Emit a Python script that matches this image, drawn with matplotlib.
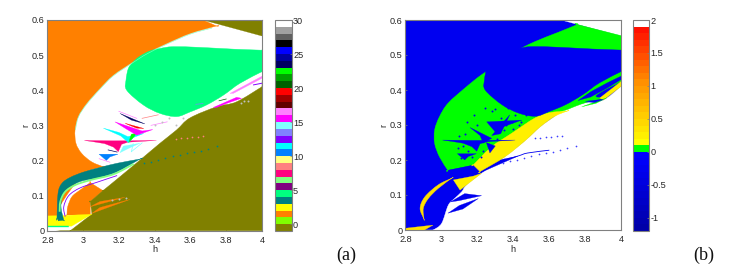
import numpy as np
import matplotlib
matplotlib.use('Agg')
import matplotlib.pyplot as plt
from matplotlib.cm import ScalarMappable
from matplotlib.colors import BoundaryNorm, ListedColormap
from matplotlib.patches import PathPatch
from matplotlib.path import Path

plt.rcParams['font.family'] = ['Liberation Sans', 'DejaVu Sans']
plt.rcParams['axes.unicode_minus'] = False

# region outlines as (h, r). A repeated point is a sharp corner.
orange_main = [(2.8, .6), (2.8, .6), (3.67, .6), (3.67, .6), (3.745, .583), (3.745, .583), (3.6, .562), (3.467, .533),
               (3.355, .505), (3.28, .481), (3.169, .443), (3.094, .405), (3.02, .3625), (2.973, .325), (2.955, .287),
               (2.96, .249), (2.992, .22), (3.048, .196), (3.113, .182), (3.113, .182), (3.0, .16), (2.87, .07),
               (2.87, .042), (2.87, .042), (2.8, .042), (2.8, .042)]
orange_rim = [(3.72, .577), (3.6, .56), (3.467, .531), (3.355, .503), (3.28, .479), (3.169, .441), (3.094, .403),
              (3.02, .36), (2.975, .325), (2.957, .287)]
orange_patch = [(2.91, .0447), (2.91, .0447), (2.914, .068), (2.938, .097), (2.984, .116), (3.04, .137), (3.04, .137),
                (3.111, .114), (3.111, .114), (3.04, .083), (3.04, .083), (3.04, .0447), (3.04, .0447)]
orange_streak1 = [(3.039, .068), (3.234, .095), (3.094, .083)]
orange_streak2 = [(3.048, .049), (3.262, .089), (3.094, .066)]
olive_main = [(2.929, 0), (2.929, 0), (3.05, .0476), (3.05, .0476), (3.04, .083), (3.04, .083), (3.111, .114),
              (3.111, .114), (3.188, .146), (3.318, .201), (3.43, .249), (3.523, .287), (3.597, .321), (3.747, .353),
              (3.858, .367), (4, .41), (4, .41), (4, 0), (4, 0)]
olive_wedge = [(3.67, .6), (4, .6), (4, .555)]
yellow_low = [(2.8, .042), (2.885, .043), (3.05, .047), (2.936, .013), (2.8, .013)]
teal_band = [(2.854, .0353), (2.854, .0353), (2.86, .1065), (2.882, .135), (2.929, .152), (3.003, .167), (3.095, .18),
             (3.19, .192), (3.318, .204), (3.318, .204), (3.19, .168), (3.095, .152), (2.984, .14), (2.91, .118),
             (2.882, .092), (2.877, .064), (2.892, .03), (2.892, .03), (2.864, .0285), (2.864, .0285)]
lightgreen_line = [(2.869, .054), (2.873, .083), (2.9, .111), (2.956, .13), (3.04, .144), (3.171, .161), (3.283, .19)]
purple_line = [(2.9, .04), (2.892, .068), (2.92, .1), (2.984, .122), (3.078, .138), (3.19, .157)]
teardrop = [(3.24, .429), (3.253, .462), (3.281, .481), (3.318, .497), (3.374, .512), (3.43, .519), (3.504, .524),
            (3.653, .522), (3.84, .517), (4, .514), (4, .514), (4, .453), (4, .453), (3.877, .42), (3.784, .386),
            (3.69, .358), (3.597, .338), (3.523, .325), (3.43, .334), (3.337, .358), (3.244, .4)]

spike_pink = [(3.007, .257), (3.17, .256), (3.41, .257), (3.25, .252), (3.215, .246), (3.197, .225), (3.17, .238), (3.12, .248), (3.06, .253)]
spike_cyan = [(3.113, .292), (3.2, .28), (3.25, .268), (3.34, .277), (3.28, .265), (3.255, .25), (3.21, .27)]
spike_lightcyan = [(3.206, .222), (3.225, .241), (3.318, .249), (3.253, .234)]
spike_green = [(3.255, .252), (3.27, .275), (3.3, .277), (3.275, .262)]
spike_blue = [(3.089, .218), (3.195, .218), (3.15, .21), (3.13, .2)]
spike_magenta = [(3.178, .31), (3.33, .284), (3.39, .288), (3.3, .272), (3.28, .278), (3.24, .29)]
spike_red = [(3.234, .306), (3.34, .291), (3.3, .292), (3.27, .298)]
spike_navy = [(3.206, .334), (3.346, .304), (3.27, .315)]
right_magenta = [(3.728, .351), (3.858, .38), (3.886, .377), (3.803, .3625), (3.747, .351)]
right_pink = [(3.821, .391), (4, .44), (4, .434), (3.84, .391)]
right_violet = [(3.95, .415), (4, .42)]

# short strokes and dots in the fine structure
stroke_h0 = [3.14, 3.09, 3.38, 3.33, 3.27, 3.63, 3.76, 3.27, 3.2]
stroke_r0 = [.23, .205, .3, .32, .225, .36, .37, .225, .34]
stroke_h1 = [3.19, 3.15, 3.47, 3.42, 3.28, 3.67, 3.8, 3.33, 3.3]
stroke_r1 = [.224, .195, .31, .33, .248, .362, .375, .25, .32]
stroke_colors = ['#000060', '#FF80FF', '#FF80FF', '#FF8080', '#80FFFF', '#8080FF', '#006000', '#80FFFF', '#FF80FF']
teal_dots_h = [3.34, 3.38, 3.42, 3.46, 3.5, 3.54, 3.58, 3.62, 3.66, 3.7, 3.75]
teal_dots_r = [.192, .197, .201, .206, .212, .216, .22, .224, .228, .233, .24]
pink_dots_h = [3.52, 3.55, 3.58, 3.61, 3.64, 3.67]
pink_dots_r = [.262, .264, .265, .267, .268, .27]
white_dots_h = [3.16, 3.2, 3.24, 3.4, 3.44, 3.48, 3.52, 3.56, 3.88, 3.9, 3.92]
white_dots_r = [.086, .09, .094, .3, .31, .32, .3, .32, .365, .37, .37]

# panel (b)
white_low = [(2.956, 0), (2.956, 0), (3.002, .019), (3.039, .071), (3.076, .091), (3.113, .109), (3.141, .129),
             (3.224, .162), (3.353, .209), (3.465, .255), (3.55, .295), (3.631, .325), (3.678, .345), (3.789, .362),
             (3.9, .371), (4, .411), (4, .411), (4, 0), (4, 0)]
white_wedge = [(3.667, .6), (4, .6), (4, .555)]
green_crescent = [(3.756, .587), (3.756, .587), (3.648, .5645), (3.519, .538), (3.407, .509), (3.333, .481),
                  (3.222, .443), (3.13, .405), (3.037, .362), (2.99, .324), (2.963, .286), (2.963, .2475), (2.99, .209),
                  (3.036, .171), (3.036, .171), (3.178, .186), (3.298, .203), (3.298, .203), (3.5, .28), (3.63, .33),
                  (3.704, .345), (3.778, .36), (3.852, .371), (3.907, .376), (3.907, .376), (3.86, .385), (4, .425),
                  (4, .425), (4, .516), (4, .555), (4, .555)]
yellow_band = [(3.178, .186), (3.178, .186), (3.28, .238), (3.39, .276), (3.52, .32), (3.6, .335), (3.7, .34), (3.7, .34),
               (3.631, .325), (3.55, .295), (3.465, .255), (3.353, .209), (3.215, .167), (3.215, .167)]
blue_wedge = [(3.04, .171), (3.426, .211), (3.2, .16), (3.08, .13)]
yellow_tri = [(3.067, .143), (3.178, .154), (3.224, .162), (3.141, .129), (3.104, .114)]
yellow_crescent = [(2.904, .031), (2.904, .031), (2.882, .062), (2.909, .095), (2.983, .129), (3.058, .148),
                   (3.058, .148), (2.983, .119), (2.928, .09), (2.9, .062)]
yellow_corner = [(2.8, .005), (2.954, .014), (2.907, 0), (2.8, 0)]
blue_strip = [(3.76, .37), (3.83, .395), (3.92, .42), (4, .44), (4, .43), (3.92, .405), (3.83, .38)]
yellow_strip = [(3.88, .377), (4, .425), (4, .411), (3.9, .371)]
blue_streak1 = [(3.037, .048), (3.1, .07), (3.206, .09), (3.12, .06)]
blue_streak2 = [(3.05, .08), (3.13, .104), (3.224, .098), (3.1, .084)]
blue_tail = [(3.35, .2), (3.43, .212), (3.48, .22), (3.6, .228)]
green_hair = [(3.78, .352), (3.92, .378), (3.86, .362)]
blue_hair = [(3.8, .368), (3.9, .373), (3.85, .364)]
blue_spike_a = [(3.159, .293), (3.28, .262), (3.233, .248), (3.215, .27)]
blue_spike_b = [(3.28, .27), (3.38, .329), (3.33, .275)]
blue_spike_c = [(3.252, .309), (3.447, .314), (3.35, .296), (3.3, .28)]
blue_spike_d = [(3.25, .25), (3.27, .22), (3.3, .24)]
blue_speck_h = [3.09, 3.11, 3.13, 3.15, 3.17, 3.2, 3.22, 3.12, 3.18, 3.24, 3.3, 3.33, 3.37, 3.41, 3.44, 3.47, 3.4, 3.36,
                3.31, 3.28, 3.23, 3.1, 3.14, 3.35, 3.39, 3.43]
blue_speck_r = [.235, .205, .275, .225, .21, .3, .21, .24, .33, .35, .345, .32, .35, .33, .31, .33, .29, .3, .26, .34,
                .225, .27, .31, .285, .31, .3]
blue_dots_h = [3.34, 3.38, 3.42, 3.46, 3.5, 3.54, 3.58, 3.62, 3.66, 3.7, 3.75, 3.52, 3.55, 3.58, 3.61, 3.64, 3.67]
blue_dots_r = [.192, .197, .201, .206, .212, .216, .22, .224, .228, .233, .24, .262, .264, .265, .267, .268, .27]

cbar_a_bounds = list(range(-1, 31))
cbar_a_ticks = [0, 5, 10, 15, 20, 25, 30]
cbar_a_colors = ['#808000', '#80FF00', '#FF8000', '#FFFF00', '#008080', '#00FF80', '#800080', '#80FF80',
                 '#FF0080', '#FF8080', '#FFFF80', '#0080FF', '#00FFFF', '#8000FF', '#8080FF', '#80FFFF',
                 '#FF00FF', '#FF80FF', '#600000', '#A00000', '#FF0000', '#006000', '#00A000', '#00FF00',
                 '#000060', '#0000A0', '#0000FF', '#000000', '#606060', '#A0A0A0', '#FFFFFF']
cbar_b_ticks = [-1, -0.5, 0, 0.5, 1, 1.5, 2]
cbar_b_ticklabels = ['-1', '-0.5', '0', '0.5', '1', '1.5', '2']
cbar_b_colors = ['#0000A8', '#0000B0', '#0000B8', '#0000C0', '#0000C8', '#0000D0', '#0000D8', '#0000E0',
                 '#0000E8', '#0000F0', '#0000F8', '#0000FF', '#00FF00', '#FFFF00', '#FFF000', '#FFE400',
                 '#FFD800', '#FFCC00', '#FFC000', '#FFB400', '#FFA800', '#FF9C00', '#FF9000', '#FF8000',
                 '#FF7000', '#FF6000', '#FF5000', '#FF4000', '#FF3000', '#FF2000', '#FF1000', '#FFFFFF']
cbar_b_bounds = [round(-1.2 + 0.1 * i, 1) for i in range(33)]

xticks = [2.8, 3, 3.2, 3.4, 3.6, 3.8, 4]
xticklabels = ['2.8', '3', '3.2', '3.4', '3.6', '3.8', '4']
yticks = [0, 0.1, 0.2, 0.3, 0.4, 0.5, 0.6]
yticklabels = ['0', '0.1', '0.2', '0.3', '0.4', '0.5', '0.6']

W, H = 736, 269
GRAY = '#808080'
TXT = '#262626'
FS = 6.6
BLUE = '#0000F0'


def curve_path(pts, closed):
    # Bezier through the read points, so the outlines come out round
    a = np.array(pts, dtype=float)
    n = len(a)
    verts = [a[0]]
    codes = [Path.MOVETO]
    for i in range(n if closed else n - 1):
        if closed:
            p0, p1, p2, p3 = a[(i - 1) % n], a[i], a[(i + 1) % n], a[(i + 2) % n]
        else:
            p0, p1, p2, p3 = a[max(i - 1, 0)], a[i], a[i + 1], a[min(i + 2, n - 1)]
        verts += [p1 + (p2 - p0) / 6, p2 - (p3 - p1) / 6, p2]
        codes += [Path.CURVE4] * 3
    return Path(verts, codes)


def smooth(ax, pts, color):
    ax.add_patch(PathPatch(curve_path(pts, True), facecolor=color, edgecolor=color, lw=0.3, zorder=2))


def fill(ax, pts, color):
    a = np.array(pts)
    ax.fill(a[:, 0], a[:, 1], color=color, lw=0.2, zorder=2)


def line(ax, pts, color, lw=1.0):
    ax.add_patch(PathPatch(curve_path(pts, False), facecolor='none', edgecolor=color, lw=lw, zorder=3))


def make_axes(fig, box):
    # box is left, top, right, bottom in pixels
    return fig.add_axes([box[0] / W, 1 - box[3] / H, (box[2] - box[0]) / W, (box[3] - box[1]) / H])


def style_main(ax):
    ax.set_xlim(2.8, 4)
    ax.set_ylim(0, 0.6)
    ax.set_xticks(xticks, xticklabels)
    ax.set_yticks(yticks, yticklabels)
    ax.tick_params(direction='in', length=1.5, width=0.5, color=GRAY, labelsize=FS, labelcolor=TXT)
    ax.tick_params(axis='x', pad=3.5)
    ax.tick_params(axis='y', pad=2)
    ax.set_xlabel('h', fontsize=FS, color=TXT, labelpad=0.5)
    ax.set_ylabel('r', fontsize=FS, color=TXT, labelpad=1)
    for s in ax.spines.values():
        s.set_color(GRAY)
        s.set_linewidth(0.8)
        s.set_zorder(5)


def make_cbar(fig, box, colors, bounds, ticks, labels=None):
    cax = make_axes(fig, box)
    cmap = ListedColormap(colors)
    norm = BoundaryNorm(bounds, cmap.N)
    cb = fig.colorbar(ScalarMappable(norm=norm, cmap=cmap), cax=cax, spacing='proportional', ticks=ticks)
    if labels:
        cb.set_ticklabels(labels)
    cb.minorticks_off()
    cax.tick_params(direction='in', length=1.5, width=0.5, color=GRAY, labelsize=FS, labelcolor=TXT, pad=1)
    cb.outline.set_edgecolor(GRAY)
    cb.outline.set_linewidth(0.8)
    return cb


fig = plt.figure(figsize=(W / 100, H / 100), dpi=100)

# (a)
ax = make_axes(fig, (47.3, 20, 262, 230.7))
smooth(ax, orange_main, '#FF8000')
line(ax, orange_rim, '#80FFC0', 0.4)
smooth(ax, orange_patch, '#FF8000')
smooth(ax, olive_main, '#808000')
fill(ax, olive_wedge, '#808000')
fill(ax, orange_streak1, '#FF8000')
fill(ax, orange_streak2, '#FF8000')
fill(ax, yellow_low, '#FFFF00')
line(ax, [(2.8, .012), (2.92, .012)], '#00FF80', 1.0)
smooth(ax, teal_band, '#008080')
line(ax, lightgreen_line, '#80FF80', 1.3)
line(ax, purple_line, '#8000FF', 0.6)
smooth(ax, teardrop, '#00FF80')
fill(ax, spike_pink, '#FF0080')
fill(ax, spike_cyan, '#00FFFF')
fill(ax, spike_lightcyan, '#80FFFF')
fill(ax, spike_green, '#00FF00')
fill(ax, spike_blue, '#0080FF')
fill(ax, spike_magenta, '#FF00FF')
fill(ax, spike_red, '#FF0000')
fill(ax, spike_navy, '#000060')
fill(ax, right_magenta, '#FF00FF')
fill(ax, right_pink, '#FF80FF')
line(ax, right_violet, '#8000FF', 0.7)
for h0, r0, h1, r1, c in zip(stroke_h0, stroke_r0, stroke_h1, stroke_r1, stroke_colors):
    ax.plot([h0, h1], [r0, r1], color=c, lw=0.5, zorder=3)
ax.scatter(teal_dots_h, teal_dots_r, s=1.5, color='#008080', lw=0, zorder=3)
ax.scatter(pink_dots_h, pink_dots_r, s=1.5, color='#FF8080', lw=0, zorder=3)
ax.scatter(white_dots_h, white_dots_r, s=2, color='#C0C0C0', lw=0, zorder=3)
style_main(ax)
make_cbar(fig, (275, 20, 291.7, 231), cbar_a_colors, cbar_a_bounds, cbar_a_ticks)
fig.text(336 / W, 1 - 255 / H, '(a)', fontsize=13, family='Liberation Serif', color='#111111', va='center')

# (b)
ax = make_axes(fig, (405.3, 20, 621.3, 230))
ax.set_facecolor(BLUE)
smooth(ax, white_low, '#FFFFFF')
fill(ax, white_wedge, '#FFFFFF')
smooth(ax, green_crescent, '#00FF00')
fill(ax, blue_wedge, BLUE)
smooth(ax, yellow_band, '#FFF000')
smooth(ax, teardrop, BLUE)
fill(ax, yellow_tri, '#FFF000')
smooth(ax, yellow_crescent, '#FFE000')
fill(ax, yellow_corner, '#FFE000')
fill(ax, blue_strip, BLUE)
fill(ax, yellow_strip, '#FFF000')
fill(ax, green_hair, '#00FF00')
fill(ax, blue_hair, BLUE)
fill(ax, blue_streak1, BLUE)
fill(ax, blue_streak2, BLUE)
fill(ax, spike_pink, BLUE)
for spike in (blue_spike_a, blue_spike_b, blue_spike_c, blue_spike_d, spike_blue):
    fill(ax, spike, BLUE)
line(ax, blue_tail, BLUE, 0.6)
ax.scatter(blue_speck_h, blue_speck_r, s=2, color=BLUE, lw=0, zorder=3)
ax.scatter(blue_dots_h, blue_dots_r, s=1.5, color='#4040FF', lw=0, zorder=3)
style_main(ax)
make_cbar(fig, (633.3, 20, 649.3, 231), cbar_b_colors, cbar_b_bounds, cbar_b_ticks, cbar_b_ticklabels)
fig.text(693 / W, 1 - 255 / H, '(b)', fontsize=13, family='Liberation Serif', color='#111111', va='center')

fig.savefig('out.png', dpi=100)
